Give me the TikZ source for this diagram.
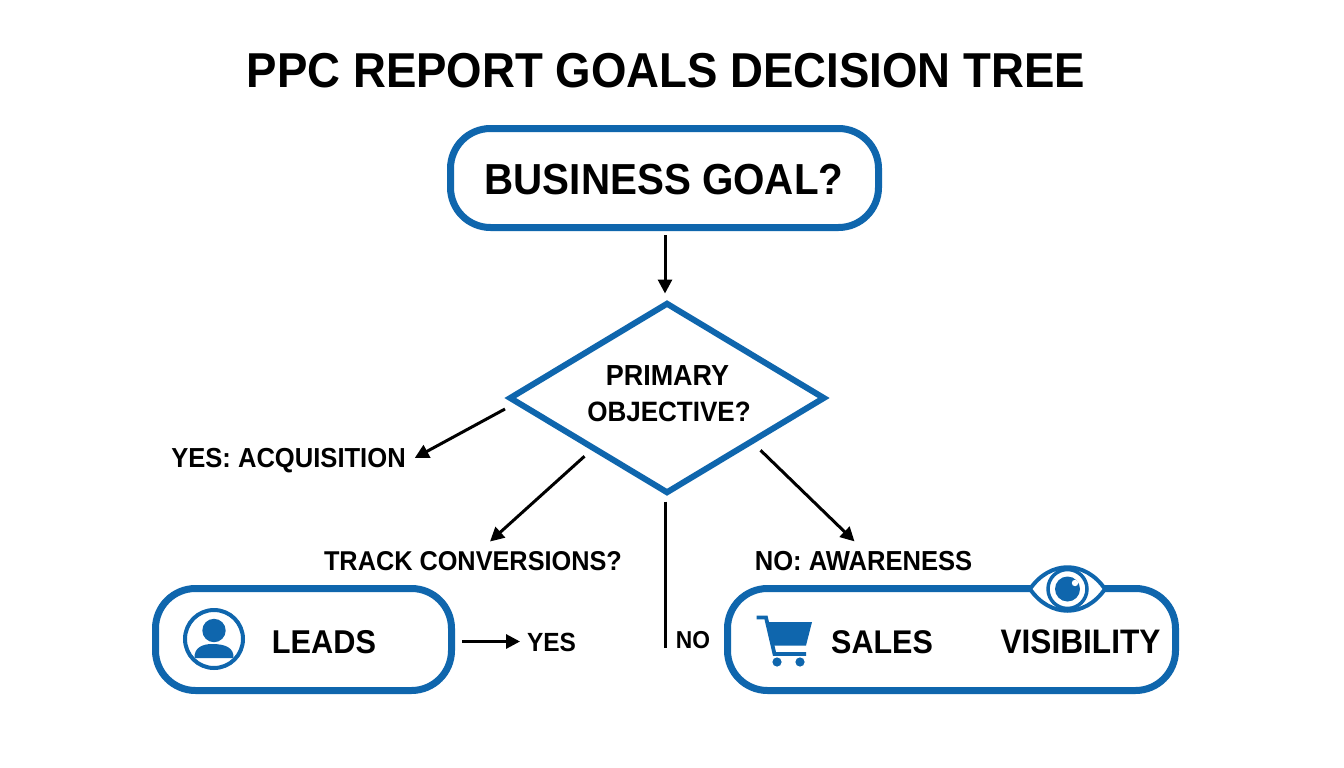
\documentclass[tikz,border=0pt]{standalone}
\usepackage{fontspec}
\setmainfont{Liberation Sans}[BoldFont={Liberation Sans Bold},BoldFeatures={FakeStretch=0.93}]
\usetikzlibrary{shapes.geometric,arrows.meta,calc}
\definecolor{brand}{HTML}{0F66AD}
\newcommand{\fs}[1]{\fontsize{#1}{#1}\selectfont\bfseries}
\tikzset{
  lab/.style={inner sep=0pt,outer sep=0pt,text depth=0pt,text=black,font=\fs{#1}},
  rbox/.style={draw=brand,line width=7pt,rounded corners=40pt,fill=white,inner sep=0pt},
  conn/.style={draw=black,line width=3pt},
  arrow/.style={conn,-{Triangle[length=14pt,width=14pt]}},
  iconfill/.style={fill=brand,draw=none},
  iconline/.style={draw=brand,fill=none}
}
\begin{document}
\begin{tikzpicture}[x=1pt,y=-1pt]
\useasboundingbox (0,0) rectangle (1344,768);
\fill[white] (0,0) rectangle (1344,768);
\node[lab=49] (title) at (666,70) {PPC REPORT GOALS DECISION TREE};
\node[rbox,minimum width=428pt,minimum height=99pt] (goal) at (664.5,178) {};
\node[lab=43.4] (goaltxt) at (664,179) {BUSINESS GOAL?};
\node[diamond,draw=brand,line width=6pt,fill=white,inner sep=0pt,minimum width=316pt,minimum height=191pt,aspect=1.66,miter limit=10] (dia) at (667,398) {};
\node[lab=29] (prim) at (667.5,376) {PRIMARY};
\node[lab=28] (obj) at (669,412) {OBJECTIVE?};
\node[lab=27.5] (acq) at (288.5,458) {YES: ACQUISITION};
\node[lab=27.2] (track) at (473,561) {TRACK CONVERSIONS?};
\node[lab=27.5] (aware) at (863.5,561) {NO: AWARENESS};
\node[rbox,minimum width=296pt,minimum height=102pt] (leads) at (303.5,639.5) {};
\node[rbox,minimum width=448pt,minimum height=102pt] (vis) at (951.5,639.5) {};
\node[lab=33] (leadstxt) at (324,642) {LEADS};
\node[lab=32.8] (salestxt) at (882,642) {SALES};
\node[lab=34] (vistxt) at (1080.5,642) {VISIBILITY};
\node[lab=26.3] (yes) at (551.5,642) {YES};
\node[lab=24.5] (no) at (693,640) {NO};
% connectors
\draw[arrow] ($(goal.south)+(0.5,4)$) -- ($(dia.north)+(-2,-6)$);
\draw[arrow] ($(dia.west)+(-1,11)$) -- ($(acq.east)+(9,0)$);
\draw[arrow] ($(dia.south west)+(-2,9)$) -- ($(track.north)+(17,-10)$);
\draw[arrow] ($(dia.south east)+(13,3)$) -- ($(aware.north)+(-9,-10)$);
\draw[conn] ($(dia.south)+(-1.5,5)$) -- ++(0,146);
\draw[arrow] ($(leads.east)+(7,2)$) -- ($(yes.west)+(-7,-0.5)$);
% person icon
\draw[iconline,line width=4pt] (214,639) circle (29);
\fill[iconfill] (214,630.5) circle (11.7);
\fill[iconfill] (194.5,658) .. controls (194,648) and (202,644) .. (212,644) .. controls (226,644) and (234,648) .. (233.5,658) -- cycle;
% cart icon
\draw[iconline,line width=3.8pt] (756.6,617.5) -- (766,617.5) -- (774.5,654) -- (806,654);
\fill[iconfill] (768,622) -- (812,622) -- (806,645.5) -- (773.5,645.5) -- cycle;
\fill[iconfill] (777,662) circle (4.6) (800,662) circle (4.6);
% eye icon
\fill[white] (1029,589) .. controls (1050,559) and (1085,559) .. (1106,589) .. controls (1085,619) and (1050,619) .. (1029,589) -- cycle;
\draw[iconline,line width=4pt] (1030,589) .. controls (1050,560) and (1085,560) .. (1105,589) .. controls (1085,618) and (1050,618) .. (1030,589) -- cycle;
\draw[iconline,line width=3.5pt] (1067.5,589) circle (19.5);
\fill[iconfill] (1067.5,589) circle (12.5);
\fill[white] (1075,583) circle (3.2);
\end{tikzpicture}
\end{document}
